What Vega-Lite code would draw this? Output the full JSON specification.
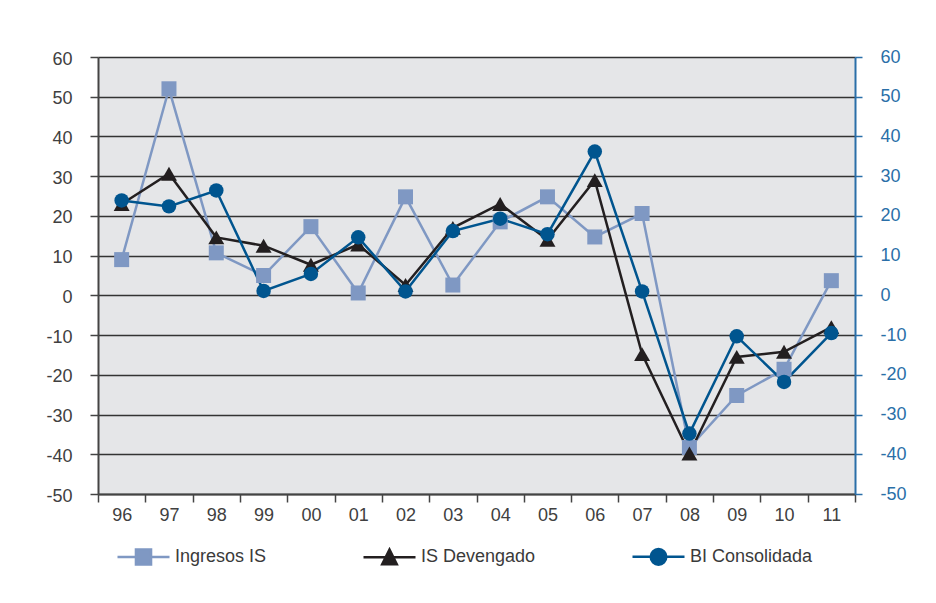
{
  "$schema": "https://vega.github.io/schema/vega-lite/v6.json",
  "width": 757,
  "height": 437,
  "autosize": "none",
  "padding": {"left": 98, "top": 57, "right": 81, "bottom": 109},
  "background": "white",
  "config": {
    "view": {"fill": "#e5e6e8", "stroke": null},
    "font": "Liberation Sans"
  },
  "data": {
    "values": [
      {"anio": "96", "serie": "Ingresos IS", "valor": 9},
      {"anio": "97", "serie": "Ingresos IS", "valor": 52},
      {"anio": "98", "serie": "Ingresos IS", "valor": 10.7},
      {"anio": "99", "serie": "Ingresos IS", "valor": 5},
      {"anio": "00", "serie": "Ingresos IS", "valor": 17.3},
      {"anio": "01", "serie": "Ingresos IS", "valor": 0.6},
      {"anio": "02", "serie": "Ingresos IS", "valor": 24.8},
      {"anio": "03", "serie": "Ingresos IS", "valor": 2.6},
      {"anio": "04", "serie": "Ingresos IS", "valor": 18.5},
      {"anio": "05", "serie": "Ingresos IS", "valor": 24.8},
      {"anio": "06", "serie": "Ingresos IS", "valor": 14.7},
      {"anio": "07", "serie": "Ingresos IS", "valor": 20.6},
      {"anio": "08", "serie": "Ingresos IS", "valor": -38.3},
      {"anio": "09", "serie": "Ingresos IS", "valor": -25.2},
      {"anio": "10", "serie": "Ingresos IS", "valor": -18.6},
      {"anio": "11", "serie": "Ingresos IS", "valor": 3.7},
      {"anio": "96", "serie": "IS Devengado", "valor": 23},
      {"anio": "97", "serie": "IS Devengado", "valor": 30.6},
      {"anio": "98", "serie": "IS Devengado", "valor": 14.6},
      {"anio": "99", "serie": "IS Devengado", "valor": 12.5},
      {"anio": "00", "serie": "IS Devengado", "valor": 7.7},
      {"anio": "01", "serie": "IS Devengado", "valor": 12.8},
      {"anio": "02", "serie": "IS Devengado", "valor": 2.6},
      {"anio": "03", "serie": "IS Devengado", "valor": 17},
      {"anio": "04", "serie": "IS Devengado", "valor": 23},
      {"anio": "05", "serie": "IS Devengado", "valor": 14},
      {"anio": "06", "serie": "IS Devengado", "valor": 29},
      {"anio": "07", "serie": "IS Devengado", "valor": -14.8},
      {"anio": "08", "serie": "IS Devengado", "valor": -39.8},
      {"anio": "09", "serie": "IS Devengado", "valor": -15.5},
      {"anio": "10", "serie": "IS Devengado", "valor": -14.2},
      {"anio": "11", "serie": "IS Devengado", "valor": -8},
      {"anio": "96", "serie": "BI Consolidada", "valor": 23.9},
      {"anio": "97", "serie": "BI Consolidada", "valor": 22.4},
      {"anio": "98", "serie": "BI Consolidada", "valor": 26.4},
      {"anio": "99", "serie": "BI Consolidada", "valor": 1.1},
      {"anio": "00", "serie": "BI Consolidada", "valor": 5.4},
      {"anio": "01", "serie": "BI Consolidada", "valor": 14.6},
      {"anio": "02", "serie": "BI Consolidada", "valor": 1},
      {"anio": "03", "serie": "BI Consolidada", "valor": 16.2},
      {"anio": "04", "serie": "BI Consolidada", "valor": 19.3},
      {"anio": "05", "serie": "BI Consolidada", "valor": 15.4},
      {"anio": "06", "serie": "BI Consolidada", "valor": 36.2},
      {"anio": "07", "serie": "BI Consolidada", "valor": 1},
      {"anio": "08", "serie": "BI Consolidada", "valor": -34.8},
      {"anio": "09", "serie": "BI Consolidada", "valor": -10.3},
      {"anio": "10", "serie": "BI Consolidada", "valor": -21.8},
      {"anio": "11", "serie": "BI Consolidada", "valor": -9.5}
    ]
  },
  "encoding": {
    "x": {
      "field": "anio",
      "type": "ordinal",
      "sort": ["96","97","98","99","00","01","02","03","04","05","06","07","08","09","10","11"],
      "scale": {"type": "band", "paddingInner": 0, "paddingOuter": 0},
      "axis": {
        "title": null,
        "tickBand": "extent",
        "labelAngle": 0,
        "domainColor": "#444",
        "domainWidth": 2,
        "tickColor": "#444",
        "tickWidth": 1.5,
        "tickSize": 8,
        "labelFontSize": 18,
        "labelColor": "#404040",
        "labelPadding": 4,
        "grid": false
      }
    },
    "color": {
      "field": "serie",
      "type": "nominal",
      "scale": {
        "domain": ["Ingresos IS", "IS Devengado", "BI Consolidada"],
        "range": ["#7f98c3", "#231f20", "#00558f"]
      },
      "legend": {
        "title": null,
        "orient": "none",
        "legendX": 18,
        "legendY": 472,
        "direction": "horizontal",
        "padding": 0,
        "symbolSize": 2704,
        "symbolStrokeWidth": 2.5,
        "labelFontSize": 18,
        "labelColor": "#3a3a3a",
        "labelOffset": 4,
        "columnPadding": 91,
        "encode": {
          "symbols": {
            "update": {
              "shape": {"signal": "datum.value === 'Ingresos IS' ? 'M-1,0H1M-0.29,-0.29H0.29V0.29H-0.29Z' : datum.value === 'IS Devengado' ? 'M-1,0H1M0,-0.3L0.28,0.26H-0.28Z' : 'M-1,0H1M-0.3,0A0.3,0.3 0 1,0 0.3,0A0.3,0.3 0 1,0 -0.3,0Z'"},
              "fill": {"signal": "datum.value === 'Ingresos IS' ? '#7f98c3' : datum.value === 'IS Devengado' ? '#231f20' : '#00558f'"},
              "stroke": {"signal": "datum.value === 'Ingresos IS' ? '#7f98c3' : datum.value === 'IS Devengado' ? '#231f20' : '#00558f'"},
              "strokeWidth": {"value": 2.5},
              "size": {"value": 2704},
              "opacity": {"value": 1},
              "fillOpacity": {"value": 1},
              "strokeOpacity": {"value": 1}
            }
          }
        }
      }
    }
  },
  "layer": [
    {
      "mark": {"type": "line", "strokeWidth": 2.5},
      "encoding": {
        "y": {
          "field": "valor",
          "type": "quantitative",
          "scale": {"domain": [-50, 60], "nice": false, "zero": false},
          "axis": {
            "orient": "left",
            "title": null,
            "values": [-50, -40, -30, -20, -10, 0, 10, 20, 30, 40, 50, 60],
            "labelExpr": "replace(datum.label, '\u2212', '-')",
            "grid": true,
            "gridColor": "#333333",
            "gridWidth": 1.5,
            "domainColor": "#444",
            "domainWidth": 2,
            "tickColor": "#444",
            "tickWidth": 1.5,
            "tickSize": 8,
            "labelFontSize": 18,
            "labelColor": "#404040",
            "labelPadding": 18,
            "labelOffset": 2
          }
        }
      }
    },
    {
      "encoding": {
        "y": {
          "field": "valor",
          "type": "quantitative",
          "scale": {"domain": [-50, 60], "nice": false, "zero": false},
          "axis": {
            "orient": "right",
            "title": null,
            "values": [-50, -40, -30, -20, -10, 0, 10, 20, 30, 40, 50, 60],
            "labelExpr": "replace(datum.label, '\u2212', '-')",
            "grid": false,
            "domainColor": "#2a6fa8",
            "domainWidth": 2,
            "tickColor": "#2a6fa8",
            "tickWidth": 1.5,
            "tickSize": 7,
            "labelFontSize": 18,
            "labelColor": "#2a6fa8",
            "labelPadding": 18
          }
        }
      },
      "layer": [
        {
          "transform": [{"filter": "datum.serie === 'Ingresos IS'"}],
          "mark": {"type": "point", "filled": true, "opacity": 1, "shape": "square", "size": 225}
        },
        {
          "transform": [{"filter": "datum.serie === 'IS Devengado'"}],
          "mark": {"type": "point", "filled": true, "opacity": 1, "shape": "triangle-up", "size": 256}
        },
        {
          "transform": [{"filter": "datum.serie === 'BI Consolidada'"}],
          "mark": {"type": "point", "filled": true, "opacity": 1, "shape": "circle", "size": 210}
        }
      ]
    }
  ],
  "resolve": {"scale": {"y": "independent"}, "axis": {"y": "independent"}}
}
